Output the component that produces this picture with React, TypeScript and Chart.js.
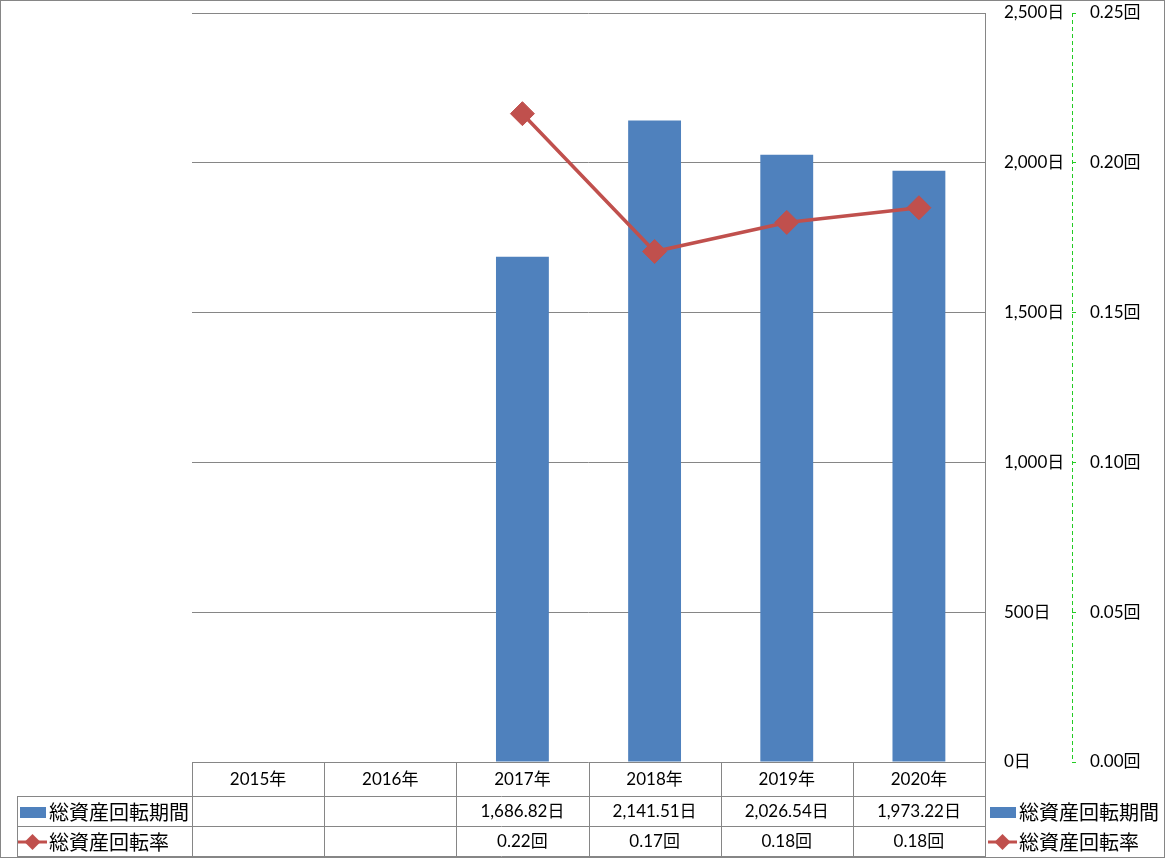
import React, { useEffect, useRef } from "react";
import { Chart, registerables } from "chart.js";

Chart.register(...registerables);

const categories = ["2015年", "2016年", "2017年", "2018年", "2019年", "2020年"];
const periodDays: (number | null)[] = [null, null, 1686.82, 2141.51, 2026.54, 1973.22];
const turnoverRate: (number | null)[] = [null, null, 0.2164, 0.1704, 0.1801, 0.185];
const periodLabels = ["", "", "1,686.82日", "2,141.51日", "2,026.54日", "1,973.22日"];
const rateLabels = ["", "", "0.22回", "0.17回", "0.18回", "0.18回"];
const seriesNames = ["総資産回転期間", "総資産回転率"];

const BAR_COLOR = "#4F81BD";
const LINE_COLOR = "#C0504D";
const GRID_COLOR = "#868686";
const AXIS2_COLOR = "#22cc22";
const NUM_FONT = '17px Lato, "Noto Sans CJK JP", sans-serif';
const CJK_FONT = '20px "Noto Sans CJK JP", sans-serif';

function drawDiamond(ctx: CanvasRenderingContext2D, x: number, y: number, r: number) {
  ctx.beginPath();
  ctx.moveTo(x, y - r);
  ctx.lineTo(x + r, y);
  ctx.lineTo(x, y + r);
  ctx.lineTo(x - r, y);
  ctx.closePath();
  ctx.fill();
}

function drawBarIcon(ctx: CanvasRenderingContext2D, x: number, y: number) {
  ctx.fillStyle = BAR_COLOR;
  ctx.fillRect(x, y - 5, 26, 11);
}

function drawLineIcon(ctx: CanvasRenderingContext2D, x: number, y: number) {
  ctx.strokeStyle = LINE_COLOR;
  ctx.lineWidth = 3;
  ctx.beginPath();
  ctx.moveTo(x, y);
  ctx.lineTo(x + 29, y);
  ctx.stroke();
  ctx.fillStyle = LINE_COLOR;
  drawDiamond(ctx, x + 14.5, y, 8);
}

const tablePlugin = {
  id: "dataTable",
  afterDraw(chart: any) {
    const ctx: CanvasRenderingContext2D = chart.ctx;
    const xs = chart.scales.x;
    const y1s = chart.scales.y1;
    const area = chart.chartArea;
    const n = categories.length;
    const step = xs.getPixelForValue(1) - xs.getPixelForValue(0);
    const left = xs.getPixelForValue(0) - step / 2;
    const top = Math.round(area.bottom);
    const r1 = top + 34;
    const r2 = r1 + 30;
    const r3 = r2 + 30;
    const tableLeft = 17;

    ctx.save();
    // dashed secondary axis line
    const ax = Math.round(y1s.left) + 0.5;
    ctx.strokeStyle = AXIS2_COLOR;
    ctx.lineWidth = 1;
    ctx.setLineDash([4, 3]);
    ctx.beginPath();
    ctx.moveTo(ax, area.top);
    ctx.lineTo(ax, area.bottom);
    ctx.stroke();
    ctx.setLineDash([]);

    ctx.strokeStyle = GRID_COLOR;
    ctx.lineWidth = 1;
    ctx.beginPath();
    for (let i = 0; i <= n; i++) {
      const x = Math.round(left + step * i) + 0.5;
      ctx.moveTo(x, top);
      ctx.lineTo(x, r3);
    }
    [r1, r2, r3].forEach((y) => {
      ctx.moveTo(tableLeft, y + 0.5);
      ctx.lineTo(Math.round(left + step * n) + 1, y + 0.5);
    });
    ctx.moveTo(tableLeft + 0.5, r1);
    ctx.lineTo(tableLeft + 0.5, r3);
    ctx.stroke();

    ctx.fillStyle = "#000";
    ctx.textAlign = "center";
    ctx.textBaseline = "middle";
    ctx.font = NUM_FONT;
    for (let i = 0; i < n; i++) {
      const cx = xs.getPixelForValue(i);
      ctx.fillText(categories[i], cx, (top + r1) / 2 + 1);
      ctx.fillText(periodLabels[i], cx, (r1 + r2) / 2 + 1);
      ctx.fillText(rateLabels[i], cx, (r2 + r3) / 2 + 1);
    }

    // row labels
    const y1 = (r1 + r2) / 2 + 1;
    const y2 = (r2 + r3) / 2 + 1;
    drawBarIcon(ctx, 20, y1);
    drawLineIcon(ctx, 18, y2);
    ctx.fillStyle = "#000";
    ctx.textAlign = "left";
    ctx.font = CJK_FONT;
    ctx.fillText(seriesNames[0], 49, y1);
    ctx.fillText(seriesNames[1], 49, y2);

    // right legend
    drawBarIcon(ctx, 990, y1);
    drawLineIcon(ctx, 988, y2);
    ctx.fillStyle = "#000";
    ctx.font = CJK_FONT;
    ctx.fillText(seriesNames[0], 1019, y1);
    ctx.fillText(seriesNames[1], 1019, y2);

    // outer border
    ctx.strokeStyle = GRID_COLOR;
    ctx.lineWidth = 1;
    ctx.strokeRect(0.5, 0.5, chart.width - 1, chart.height - 1);
    ctx.restore();
  },
};

export default function App() {
  const canvasRef = useRef<HTMLCanvasElement | null>(null);

  useEffect(() => {
    document.body.style.margin = "0";
    const canvas = canvasRef.current;
    if (!canvas) return;
    const tickFont = { family: 'Lato, "Noto Sans CJK JP", sans-serif', size: 17 };
    const chart = new Chart(canvas, {
      type: "bar",
      data: {
        labels: categories,
        datasets: [
          {
            type: "line",
            label: seriesNames[1],
            data: turnoverRate,
            yAxisID: "y1",
            borderColor: LINE_COLOR,
            backgroundColor: LINE_COLOR,
            borderWidth: 3.5,
            pointStyle: "rectRot",
            pointRadius: 12,
            pointBackgroundColor: LINE_COLOR,
            pointBorderColor: LINE_COLOR,
            pointBorderWidth: 1,
            tension: 0,
            order: 0,
          } as any,
          {
            type: "bar",
            label: seriesNames[0],
            data: periodDays,
            yAxisID: "y",
            backgroundColor: BAR_COLOR,
            categoryPercentage: 1,
            barPercentage: 0.4,
            order: 1,
          } as any,
        ],
      },
      options: {
        responsive: false,
        animation: false,
        devicePixelRatio: 1,
        layout: { padding: { left: 192, top: 13, right: 0, bottom: 0 } },
        plugins: { legend: { display: false }, tooltip: { enabled: false } },
        scales: {
          x: {
            offset: true,
            grid: { display: false },
            border: { display: false },
            ticks: { display: false },
            afterFit(s: any) {
              s.height = 96;
              s.paddingLeft = 0;
              s.paddingRight = 0;
            },
          },
          y: {
            position: "right",
            min: 0,
            max: 2500,
            ticks: {
              stepSize: 500,
              padding: 19,
              color: "#000",
              font: tickFont,
              callback: (v: any) => Number(v).toLocaleString("en-US") + "日",
            },
            grid: { color: GRID_COLOR, drawTicks: false },
            border: { color: GRID_COLOR },
            afterFit(s: any) {
              s.width = 87;
              s.paddingTop = 0;
              s.paddingBottom = 0;
            },
          },
          y1: {
            position: "right",
            min: 0,
            max: 0.25,
            ticks: {
              stepSize: 0.05,
              padding: 14,
              color: "#000",
              font: tickFont,
              callback: (v: any) => Number(v).toFixed(2) + "回",
            },
            grid: { drawOnChartArea: false, color: AXIS2_COLOR, tickLength: 4 },
            border: { display: false },
            afterFit(s: any) {
              s.width = 93;
              s.paddingTop = 0;
              s.paddingBottom = 0;
            },
          },
        } as any,
      },
      plugins: [tablePlugin],
    });
    return () => chart.destroy();
  }, []);

  return <canvas ref={canvasRef} width={1165} height={858} style={{ display: "block" }} />;
}
